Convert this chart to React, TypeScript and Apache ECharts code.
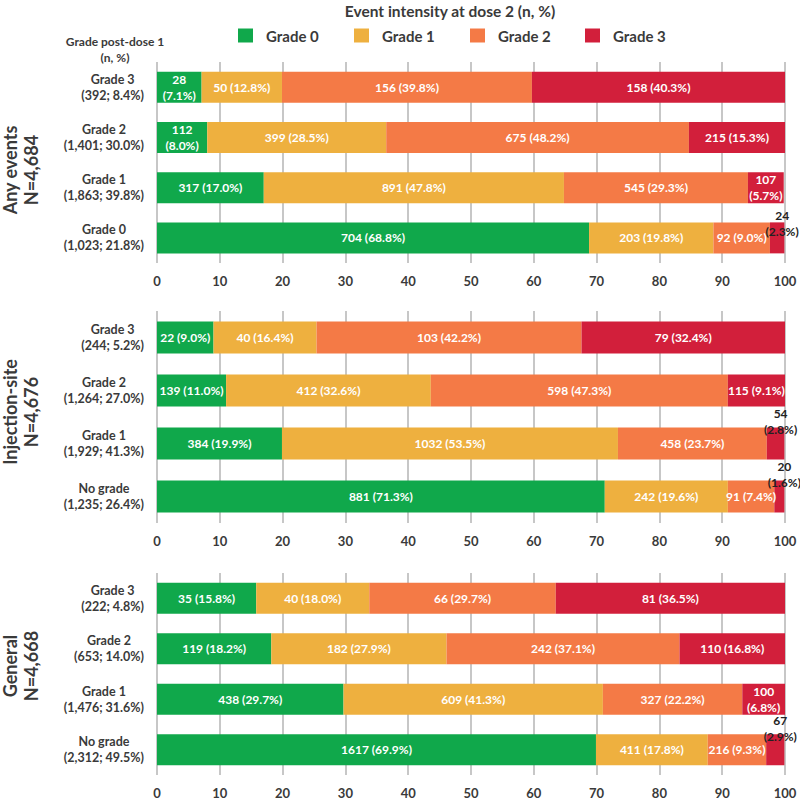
import React, { useEffect, useRef } from "react";
import * as echarts from "echarts";

const FONT = 'Lato, "Open Sans", sans-serif';
const TEXT = "#3a3a3a";

const grades = ["Grade 0", "Grade 1", "Grade 2", "Grade 3"];
const gradeColors = ["#10a84b", "#eeb03f", "#f47a46", "#d21f3b"];

const chartTitle = "Event intensity at dose 2 (n, %)";
const rowHeader = "Grade post-dose 1\n(n, %)";

const panelTitles = ["Any events", "Injection-site", "General"];
const panelN = ["N=4,684", "N=4,676", "N=4,668"];

// categories listed top to bottom
const anyCats = ["Grade 3", "Grade 2", "Grade 1", "Grade 0"];
const anySubs = ["(392; 8.4%)", "(1,401; 30.0%)", "(1,863; 39.8%)", "(1,023; 21.8%)"];
const anyCounts = [
  [28, 50, 156, 158],
  [112, 399, 675, 215],
  [317, 891, 545, 107],
  [704, 203, 92, 24],
];
const anyPct = [
  [7.1, 12.8, 39.8, 40.3],
  [8.0, 28.5, 48.2, 15.3],
  [17.0, 47.8, 29.3, 5.7],
  [68.8, 19.8, 9.0, 2.3],
];

const injCats = ["Grade 3", "Grade 2", "Grade 1", "No grade"];
const injSubs = ["(244; 5.2%)", "(1,264; 27.0%)", "(1,929; 41.3%)", "(1,235; 26.4%)"];
const injCounts = [
  [22, 40, 103, 79],
  [139, 412, 598, 115],
  [384, 1032, 458, 54],
  [881, 242, 91, 20],
];
const injPct = [
  [9.0, 16.4, 42.2, 32.4],
  [11.0, 32.6, 47.3, 9.1],
  [19.9, 53.5, 23.7, 2.8],
  [71.3, 19.6, 7.4, 1.6],
];

const genCats = ["Grade 3", "Grade 2", "Grade 1", "No grade"];
const genSubs = ["(222; 4.8%)", "(653; 14.0%)", "(1,476; 31.6%)", "(2,312; 49.5%)"];
const genCounts = [
  [35, 40, 66, 81],
  [119, 182, 242, 110],
  [438, 609, 327, 100],
  [1617, 411, 216, 67],
];
const genPct = [
  [15.8, 18.0, 29.7, 36.5],
  [18.2, 27.9, 37.1, 16.8],
  [29.7, 41.3, 22.2, 6.8],
  [69.9, 17.8, 9.3, 2.9],
];

const panels = [
  { cats: anyCats, subs: anySubs, counts: anyCounts, pct: anyPct },
  { cats: injCats, subs: injSubs, counts: injCounts, pct: injPct },
  { cats: genCats, subs: genSubs, counts: genCounts, pct: genPct },
];

// layout
const gridTops = [62, 311, 573];
const gridHeights = [201, 212, 204];
const barWidths = [31, 32, 31];
const titleCentersY = [170, 412, 666];
const legendLefts = [238, 354, 470, 585];
const outsideDy = [-14, -22, -21];

export default function App() {
  const ref = useRef<HTMLDivElement>(null);

  useEffect(() => {
    if (!ref.current) return;
    const chart = echarts.init(ref.current, null, { renderer: "svg" });

    const grid = panels.map((_, p) => ({
      left: 157,
      right: 15,
      top: gridTops[p],
      height: gridHeights[p],
    }));

    const xAxis = panels.map((_, p) => ({
      type: "value",
      gridIndex: p,
      min: 0,
      max: 100,
      interval: 10,
      axisLine: { show: false },
      axisTick: { show: false },
      splitLine: { show: true, lineStyle: { color: "#b5b5b5", width: 1.5 } },
      axisLabel: {
        margin: 11,
        fontFamily: FONT,
        fontWeight: "bold",
        fontSize: 13,
        color: TEXT,
      },
    }));

    const yAxis = panels.map((pn, p) => ({
      type: "category",
      gridIndex: p,
      inverse: true,
      data: pn.cats,
      axisLine: { show: false },
      axisTick: { show: false },
      axisLabel: {
        margin: 13,
        align: "right",
        formatter: (_v: string, i: number) => `{a|${pn.cats[i]}}\n{a|${pn.subs[i]}}`,
        rich: {
          a: {
            align: "center",
            fontFamily: FONT,
            fontWeight: "bold",
            fontSize: 12.5,
            lineHeight: 16,
            color: TEXT,
          },
        },
      },
    }));

    const series: any[] = [];
    panels.forEach((pn, p) => {
      grades.forEach((g, k) => {
        series.push({
          type: "bar",
          name: g,
          xAxisIndex: p,
          yAxisIndex: p,
          stack: "panel" + p,
          barWidth: barWidths[p],
          itemStyle: { color: gradeColors[k] },
          label: {
            show: true,
            position: "inside",
            color: "#ffffff",
            fontFamily: FONT,
            fontWeight: "bold",
            fontSize: 12,
            lineHeight: 16,
            formatter: (prm: any) => {
              const n = pn.counts[prm.dataIndex][k];
              const v = pn.pct[prm.dataIndex][k];
              const ps = `(${v.toFixed(1)}%)`;
              const oneLine = `${n} ${ps}`;
              return v / oneLine.length < 0.81 ? `${n}\n${ps}` : oneLine;
            },
          },
          data: pn.pct.map((row) => {
            const v = row[k];
            if (v < 3.5) {
              return {
                value: v,
                label: { color: "#222222", offset: [5, outsideDy[p]] },
              };
            }
            return { value: v };
          }),
        });
      });
    });

    const legend = grades.map((g, i) => ({
      data: [g],
      left: legendLefts[i],
      top: 28,
      padding: 0,
      icon: "rect",
      itemWidth: 15,
      itemHeight: 14,
      selectedMode: false,
      textStyle: {
        fontFamily: FONT,
        fontWeight: "bold",
        fontSize: 15,
        color: TEXT,
        padding: [0, 0, 0, 8],
      },
    }));

    const graphic: any[] = [
      {
        type: "text",
        x: 450,
        y: 11,
        style: {
          text: chartTitle,
          align: "center",
          verticalAlign: "middle",
          fontFamily: FONT,
          fontWeight: "bold",
          fontSize: 15.5,
          fill: TEXT,
        },
      },
      {
        type: "text",
        x: 115,
        y: 49,
        style: {
          text: rowHeader,
          align: "center",
          verticalAlign: "middle",
          fontFamily: FONT,
          fontWeight: "bold",
          fontSize: 12,
          lineHeight: 16,
          fill: TEXT,
        },
      },
    ];
    panels.forEach((_, p) => {
      graphic.push({
        type: "text",
        x: 20,
        y: titleCentersY[p],
        rotation: Math.PI / 2,
        style: {
          text: `${panelTitles[p]}\n${panelN[p]}`,
          align: "center",
          verticalAlign: "middle",
          fontFamily: FONT,
          fontWeight: "bold",
          fontSize: 18,
          lineHeight: 21,
          fill: TEXT,
        },
      });
    });

    chart.setOption({
      animation: false,
      backgroundColor: "#ffffff",
      grid,
      xAxis,
      yAxis,
      legend,
      series,
      graphic,
    });

    return () => chart.dispose();
  }, []);

  return (
    <div
      ref={ref}
      style={{ position: "fixed", left: 0, top: 0, width: 800, height: 799 }}
    />
  );
}
